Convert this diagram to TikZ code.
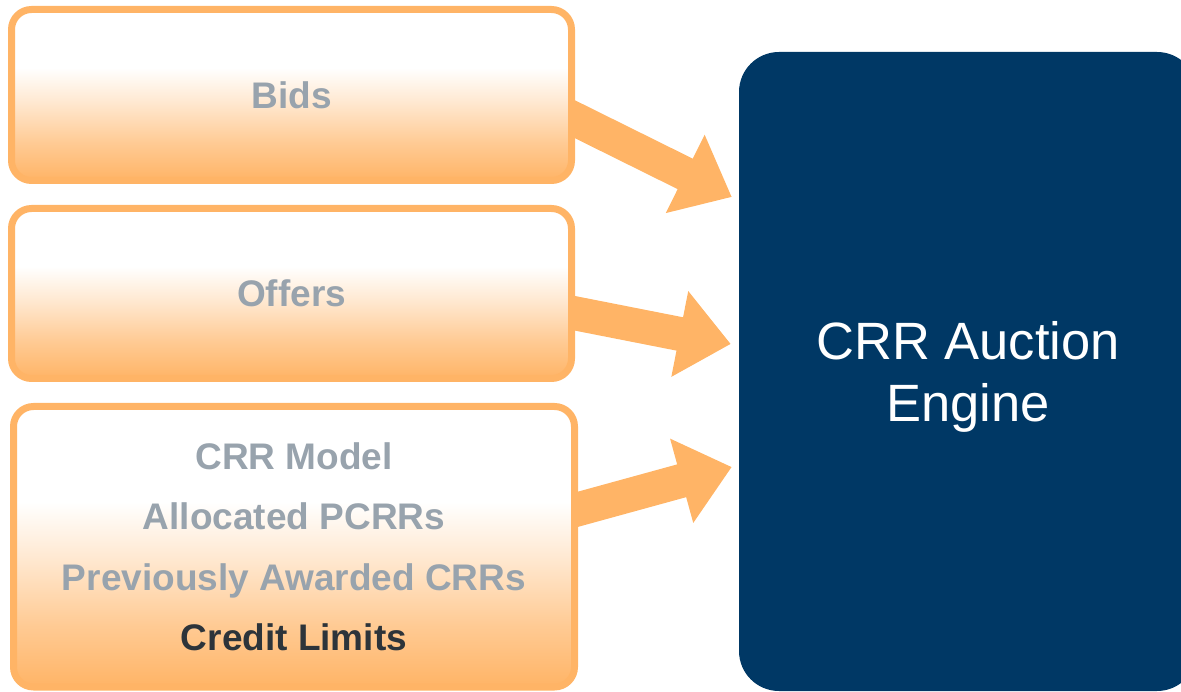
\documentclass[tikz,border=0pt]{standalone}
\usepackage{fontspec}
\setmainfont{Liberation Sans}
\usetikzlibrary{positioning,arrows.meta,calc,backgrounds}
\definecolor{inputorange}{RGB}{255,180,102}
\definecolor{inputtext}{RGB}{152,163,173}
\definecolor{limittext}{RGB}{45,52,58}
\definecolor{enginecolor}{RGB}{0,56,101}
\pgfdeclareverticalshading{inputshade}{100bp}{%
  color(0bp)=(inputorange); color(25bp)=(inputorange);
  color(36bp)=(inputorange!70!white); color(48bp)=(inputorange!30!white);
  color(58bp)=(white); color(100bp)=(white)}
\tikzset{
  input box/.style={
    rectangle,
    rounded corners=20pt,
    draw=inputorange,
    line width=7pt,
    shade,
    shading=inputshade,
    minimum width=560pt,
    inner sep=0pt,
    align=center,
    text=inputtext,
    font=\fontsize{37}{60.5}\selectfont\bfseries
  },
  engine box/.style={
    rectangle,
    rounded corners=40pt,
    fill=enginecolor,
    minimum width=458pt,
    minimum height=639pt,
    align=center,
    text=white,
    font=\fontsize{52.5}{62}\selectfont
  },
  feed/.style={
    draw=inputorange,
    line width=34pt,
    -{Triangle[width=84pt, length=52pt]}
  }
}
\begin{document}
\begin{tikzpicture}[x=1pt, y=-1pt]
  \useasboundingbox (0,0) rectangle (1181,692);

  % Input boxes
  \node[input box, minimum height=171pt, text depth=-4pt] (bids) at (291.5,95) {Bids};
  \node[input box, minimum height=170pt, text depth=-2pt] (offers) at (291.5,293.5) {Offers};
  \node[input box, minimum width=561pt, minimum height=280.5pt, text depth=-5pt] (model) at (294,546.75)
    {CRR Model\\Allocated PCRRs\\Previously Awarded CRRs\\\textcolor{limittext}{Credit Limits}};

  % Auction engine
  \node[engine box, text depth=-1pt] (engine) at (968,371.5) {CRR Auction\\Engine};

  % Arrow ends
  \coordinate (bidsout) at ($(bids.east)+(3.5,26)$);
  \coordinate (offersout) at ($(offers.east)+(3.5,20.5)$);
  \coordinate (modelout) at ($(model.east)+(5.5,-39)$);
  \coordinate (bidsin) at ($(engine.west)+(-7,-174.5)$);
  \coordinate (offersin) at ($(engine.west)+(-8,-27.5)$);
  \coordinate (modelin) at ($(engine.west)+(-7,95.5)$);

  % Feeds into the engine
  \begin{scope}[on background layer]
    \draw[feed] ($(bidsout)!-15pt!(bidsin)$) -- (bidsin);
    \draw[feed] ($(offersout)!-15pt!(offersin)$) -- (offersin);
    \draw[feed] ($(modelout)!-15pt!(modelin)$) -- (modelin);
  \end{scope}

\end{tikzpicture}
\end{document}
